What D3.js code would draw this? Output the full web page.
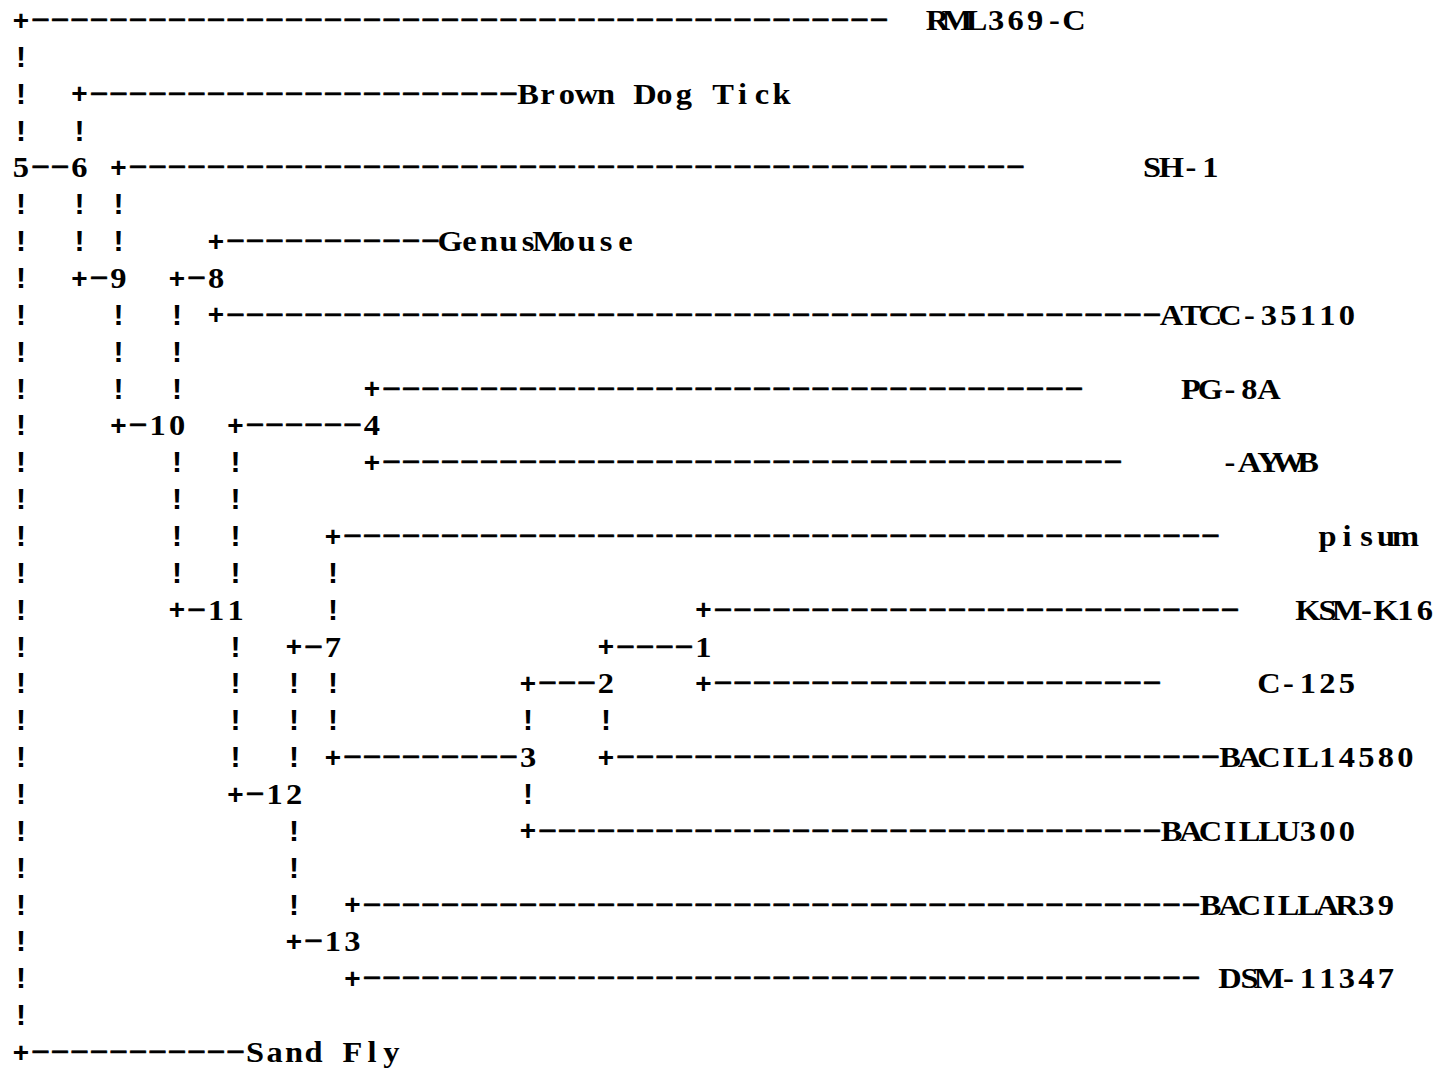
<!DOCTYPE html>
<html>
<head>
<meta charset="utf-8">
<script src="https://cdn.jsdelivr.net/npm/d3@7/dist/d3.min.js"></script>
<style>
  html, body { margin: 0; padding: 0; background: #ffffff; }
  svg { display: block; }
</style>
</head>
<body>
<script>
// ---- Tree data (character-grid units: rows and branch depths) ----
const tipNames   = ["RML369-C", "Brown Dog Tick", "SH-1", "GenusMouse", "ATCC-35110", "PG-8A", "-AYWB",
                    "pisum", "KSM-K16", "C-125", "BACIL14580", "BACILLU300", "BACILLAR39", "DSM-11347", "Sand Fly"];
const tipRows    = [0, 2, 4, 6, 8, 10, 12, 14, 16, 18, 20, 22, 24, 26, 28];
const tipParents = ["5", "6", "9", "8", "8", "4", "4", "7", "1", "1", "2", "3", "13", "13", "5"];
const tipEnds    = [44, 25, 51, 21, 58, 54, 56, 61, 62, 58, 61, 58, 60, 60, 11];
const tipLabelAt = [47, 26, 58, 22, 59, 60, 62, 67, 66, 64, 62, 59, 61, 62, 12];

const nodeNames   = ["5", "6", "9", "8", "10", "11", "4", "12", "7", "3", "2", "1", "13"];
const nodeRows    = [4, 4, 7, 7, 11, 16, 11, 21, 17, 20, 18, 17, 25];
const nodeDepths  = [0, 3, 5, 10, 8, 11, 18, 14, 16, 26, 30, 35, 17];
const nodeParents = [null, "5", "6", "10", "9", "10", "11", "11", "12", "7", "3", "2", "12"];

const nRows = 29, nCols = 73;

// ---- scales ----
const W = 1452, H = 1069;
const cellW = 19.5;
const x = d3.scaleLinear().domain([0, nCols - 1]).range([21, 21 + (nCols - 1) * cellW]);
const y = d3.scaleLinear().domain([0, nRows - 1]).range([20, 1052]);
const baseShift = 10;
const labelScaleX = 1.12;

const svg = d3.select("body").append("svg").attr("width", W).attr("height", H);

// ---- build structure grid ----
const nodes = nodeNames.map((n, i) => ({ name: n, row: nodeRows[i], col: nodeDepths[i], parent: nodeParents[i] }));
const byName = new Map(nodes.map(n => [n.name, n]));
const tips = tipNames.map((n, i) => ({ name: n, row: tipRows[i], parent: tipParents[i], end: tipEnds[i], labelAt: tipLabelAt[i] }));

const grid = new Map();
const occupied = new Set();
function put(r, c, ch) { grid.set(r + "," + c, ch); occupied.add(r + "," + c); }

nodes.forEach(n => {
  const start = n.col - n.name.length + 1;
  for (let k = 0; k < n.name.length; k++) occupied.add(n.row + "," + (start + k));
  n.labelStart = start;
});
nodes.forEach(n => {
  if (!n.parent) return;
  const p = byName.get(n.parent);
  if (p.row !== n.row) put(n.row, p.col, "+");
  for (let c = p.col + 1; c < n.labelStart; c++) put(n.row, c, "-");
});
tips.forEach(t => {
  const p = byName.get(t.parent);
  put(t.row, p.col, "+");
  for (let c = p.col + 1; c <= t.end; c++) put(t.row, c, "-");
});
nodes.forEach(n => {
  const childRows = tips.filter(t => t.parent === n.name).map(t => t.row)
    .concat(nodes.filter(m => m.parent === n.name).map(m => m.row));
  const lo = d3.min(childRows), hi = d3.max(childRows);
  for (let r = lo + 1; r < hi; r++) {
    if (!occupied.has(r + "," + n.col)) put(r, n.col, "!");
  }
});

// split into single marks ('+', '!') and dash runs
const pluses = [], bangs = [], dashRuns = [];
for (let r = 0; r < nRows; r++) {
  let run = null;
  for (let c = 0; c < nCols; c++) {
    const ch = grid.get(r + "," + c);
    if (ch === "-") {
      if (run && run.c1 === c - 1) run.c1 = c;
      else { run = { r, c0: c, c1: c }; dashRuns.push(run); }
    } else {
      run = null;
      if (ch === "+") pluses.push({ r, c });
      else if (ch === "!") bangs.push({ r, c });
    }
  }
}

// ---- draw branches ----
const gB = svg.append("g").attr("class", "branches").attr("fill", "#000");

gB.selectAll("text.dash").data(dashRuns).join("text")
  .attr("class", "dash")
  .attr("x", d => x(d.c0) - cellW / 2)
  .attr("y", d => y(d.r) + 6)
  .attr("font-family", "'Liberation Serif', serif")
  .attr("font-weight", "bold")
  .attr("font-size", 28)
  .attr("stroke", "#000")
  .attr("stroke-width", 0.5)
  .attr("textLength", d => (d.c1 - d.c0 + 1) * cellW)
  .attr("lengthAdjust", "spacingAndGlyphs")
  .text(d => "-".repeat(d.c1 - d.c0 + 1));

gB.selectAll("text.plus").data(pluses).join("text")
  .attr("class", "plus")
  .attr("x", d => x(d.c))
  .attr("y", d => y(d.r) + 9.5)
  .attr("text-anchor", "middle")
  .attr("font-family", "'Liberation Sans', Arial, sans-serif")
  .attr("font-weight", "bold")
  .attr("font-size", 28)
  .text("+");

gB.selectAll("text.bang").data(bangs).join("text")
  .attr("class", "bang")
  .attr("x", d => x(d.c))
  .attr("y", d => y(d.r) + baseShift)
  .attr("text-anchor", "middle")
  .attr("font-family", "'Liberation Mono', 'DejaVu Sans Mono', monospace")
  .attr("font-weight", "bold")
  .attr("font-size", 30)
  .text("!");

// ---- labels (node numbers and tip names), one glyph per grid cell ----
function drawLabels(cls, data, startOf) {
  svg.append("g").attr("class", cls)
    .selectAll("text").data(data).join("text")
    .attr("transform", `scale(${labelScaleX},1)`)
    .attr("x", d => d3.range(d.name.length).map(k => (x(startOf(d) + k) / labelScaleX).toFixed(2)).join(" "))
    .attr("y", d => y(d.row) + baseShift)
    .attr("text-anchor", "middle")
    .attr("font-family", "'Liberation Serif', serif")
    .attr("font-weight", "bold")
    .attr("font-size", 29)
    .attr("fill", "#000")
    .text(d => d.name);
}
drawLabels("node-labels", nodes, d => d.labelStart);
drawLabels("tip-labels", tips, d => d.labelAt);
</script>
</body>
</html>
